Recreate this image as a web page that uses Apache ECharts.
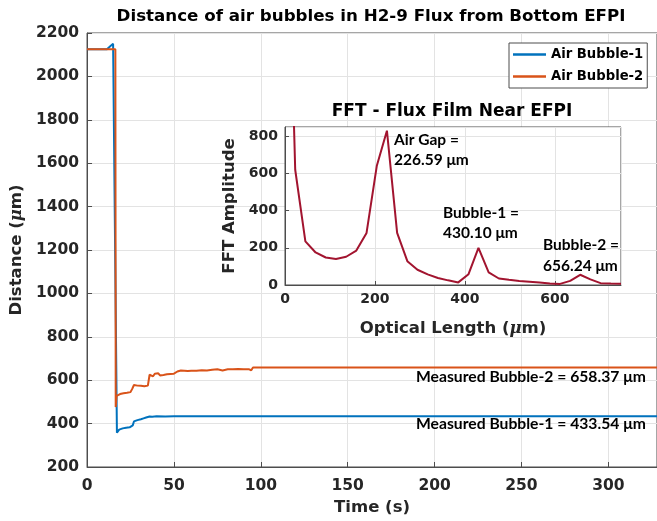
<!DOCTYPE html>
<html>
<head>
<meta charset="utf-8">
<script src="https://cdn.jsdelivr.net/npm/echarts@6/dist/echarts.min.js"></script>
<style>
html,body{margin:0;padding:0;background:#fff;}
#chart{width:657px;height:521px;}
</style>
</head>
<body>
<div id="chart"></div>
<script>
// ---- Data ----
const timeB1 = [0, 11.5, 12.5, 13.5, 14.5, 15.0, 15.6, 17.2, 17.8, 18.5, 19.5, 20.5, 21.5, 22.5, 23.5, 24.5, 25.5, 26.3, 27, 28, 29, 30, 31, 31.8, 32.5, 33.3, 34, 35, 36, 37.5, 40, 45, 50, 60, 70, 80, 90, 100, 120, 150, 200, 250, 300, 328];
const bubble1 = [2125, 2125, 2132, 2140, 2146, 2150, 2155, 358, 364, 372, 376, 378, 380, 381, 380, 383, 386, 392, 410, 414, 416, 418, 420, 416, 424, 432, 428, 431, 433, 432, 433.5, 433, 433.5, 433.5, 433.5, 433.5, 433.5, 433.5, 433.5, 433.5, 433.5, 433.5, 433.5, 433.54];

const timeB2 = [0, 16.3, 16.5, 17, 18, 19, 20, 21, 22, 23, 24, 25, 26, 27, 28, 29, 30, 31, 32, 33, 34, 35, 36, 37, 38, 39, 40, 41, 42, 43, 44, 46, 48, 50, 52, 54, 56, 58, 60, 63, 66, 69, 72, 75, 78, 81, 84, 87, 90, 93, 94.5, 95.5, 100, 150, 200, 250, 300, 328];
const bubble2 = [2125, 2125, 476, 528, 532, 536, 530, 540, 536, 542, 547, 545, 560, 578, 570, 575, 568, 574, 565, 572, 568, 575, 625, 622, 618, 630, 628, 632, 622, 625, 624, 627, 629, 630, 640, 645, 644, 642, 643, 644, 646, 645, 648, 650, 645, 650, 651, 652, 650, 651, 646, 658.37, 658.37, 658.37, 658.37, 658.37, 658.37, 658.37];

const fftX = [0, 22.7, 45.3, 68, 90.6, 113.3, 136, 158.6, 181.3, 204, 226.59, 249.3, 272, 294.5, 317.2, 340, 362.5, 385.2, 408, 430.10, 452.8, 475.5, 498, 520.8, 543.5, 566, 588.8, 611.5, 634, 656.24, 679, 701.6, 724.4, 747];
const fftY = [2600, 620, 235, 175, 148, 140, 152, 185, 280, 640, 830, 280, 128, 82, 57, 38, 25, 14, 58, 200, 68, 35, 28, 22, 18, 14, 8, 6, 22, 55, 30, 10, 8, 7];

const mainTitle = 'Distance of air bubbles in H2-9 Flux from Bottom EFPI';
const insetTitle = 'FFT - Flux Film Near EFPI';
const seriesNames = ['Air Bubble-1', 'Air Bubble-2'];
const measuredLabels = ['Measured Bubble-2 = 658.37 μm', 'Measured Bubble-1 = 433.54 μm'];
const peakLabels = [['Air Gap =', '226.59 μm'], ['Bubble-1 =', '430.10 μm'], ['Bubble-2 =', '656.24 μm']];

const zip = (a, b) => a.map((v, i) => [v, b[i]]);

// ---- Styles ----
const AX = '#4d4d4d';
const TXT = '#262626';
const GRID = '#e3e3e3';
const HF = '"DejaVu Sans", sans-serif';
const CF = 'Lato, "Open Sans", sans-serif';
const plain = v => String(v);

const chart = echarts.init(document.getElementById('chart'), null, {renderer: 'canvas'});

function txt(x, y, text, font, align) {
  return {type: 'text', x: x, y: y, z: 100,
    style: {text: text, font: font, fill: '#000', textAlign: align || 'left', textVerticalAlign: 'middle', align: align || 'left', verticalAlign: 'middle'}};
}

const tickFont = {fontFamily: HF, fontWeight: 'bold', color: TXT};

const option = {
  animation: false,
  backgroundColor: '#fff',
  grid: [
    {left: 83, top: 33, width: 574, height: 435, show: true, borderColor: AX, borderWidth: 1, backgroundColor: '#fff', containLabel: false},
    {left: 285, top: 127, width: 336, height: 158, show: true, borderColor: AX, borderWidth: 1, backgroundColor: '#fff', z: 3, containLabel: false}
  ],
  xAxis: [
    {type: 'value', gridIndex: 0, min: 0, max: 328, interval: 50,
      name: 'Time (s)', nameLocation: 'middle', nameGap: 32,
      nameTextStyle: {fontFamily: HF, fontWeight: 'bold', fontSize: 16.5, color: TXT},
      axisLine: {lineStyle: {color: AX}}, axisTick: {inside: true, length: 5, lineStyle: {color: AX}},
      axisLabel: Object.assign({fontSize: 15.5, margin: 11, showMaxLabel: false, formatter: plain}, tickFont),
      splitLine: {show: true, lineStyle: {color: GRID}}},
    {type: 'value', gridIndex: 1, min: 0, max: 747, interval: 200, z: 4,
      name: 'Optical Length ({i|μ}m)', nameLocation: 'middle', nameGap: 35,
      nameTextStyle: {fontFamily: HF, fontWeight: 'bold', fontSize: 16.5, color: TXT,
        rich: {i: {fontFamily: 'DejaVu Serif', fontStyle: 'italic', fontSize: 16.5, color: TXT}}},
      axisLine: {lineStyle: {color: AX}}, axisTick: {inside: true, length: 4, lineStyle: {color: AX}},
      axisLabel: Object.assign({fontSize: 14, margin: 7, showMaxLabel: false, formatter: plain}, tickFont),
      splitLine: {show: true, lineStyle: {color: GRID}}}
  ],
  yAxis: [
    {type: 'value', gridIndex: 0, min: 200, max: 2200, interval: 200,
      name: 'Distance ({i|μ}m)', nameLocation: 'middle', nameGap: 50,
      nameTextStyle: {fontFamily: HF, fontWeight: 'bold', fontSize: 16.5, color: TXT,
        rich: {i: {fontFamily: 'DejaVu Serif', fontStyle: 'italic', fontSize: 16.5, color: TXT}}},
      axisLine: {lineStyle: {color: AX}}, axisTick: {inside: true, length: 5, lineStyle: {color: AX}},
      axisLabel: Object.assign({fontSize: 15.5, margin: 8, formatter: plain}, tickFont),
      splitLine: {show: true, lineStyle: {color: GRID}}},
    {type: 'value', gridIndex: 1, min: 0, max: 850, interval: 200, z: 4,
      name: 'FFT Amplitude', nameLocation: 'middle', nameGap: 39,
      nameTextStyle: {fontFamily: HF, fontWeight: 'bold', fontSize: 16.5, color: TXT},
      axisLine: {lineStyle: {color: AX}}, axisTick: {inside: true, length: 4, lineStyle: {color: AX}},
      axisLabel: Object.assign({fontSize: 14, margin: 7, showMaxLabel: false, formatter: plain}, tickFont),
      splitLine: {show: true, lineStyle: {color: GRID}}}
  ],
  legend: {
    left: 509, top: 43, orient: 'vertical',
    data: [{name: seriesNames[0], icon: 'rect'}, {name: seriesNames[1], icon: 'rect'}],
    itemWidth: 33, itemHeight: 2.5, itemGap: 5,
    padding: [3, 4, 3, 4],
    backgroundColor: '#fff', borderColor: AX, borderWidth: 1, borderRadius: 0,
    textStyle: {fontFamily: HF, fontWeight: 'bold', fontSize: 13.2, color: '#000', lineHeight: 17},
    z: 10
  },
  series: [
    {name: seriesNames[0], type: 'line', xAxisIndex: 0, yAxisIndex: 0, data: zip(timeB1, bubble1),
      showSymbol: false, symbol: 'none', lineStyle: {color: '#0072BD', width: 2}, itemStyle: {color: '#0072BD'}, z: 2},
    {name: seriesNames[1], type: 'line', xAxisIndex: 0, yAxisIndex: 0, data: zip(timeB2, bubble2),
      showSymbol: false, symbol: 'none', lineStyle: {color: '#D95319', width: 2}, itemStyle: {color: '#D95319'}, z: 2},
    {name: 'FFT', type: 'line', xAxisIndex: 1, yAxisIndex: 1, data: zip(fftX, fftY),
      showSymbol: false, symbol: 'none', clip: true, lineStyle: {color: '#A2142F', width: 2}, itemStyle: {color: '#A2142F'}, z: 6}
  ],
  graphic: [
    txt(371, 17, mainTitle, 'bold 16.7px ' + HF, 'center'),
    txt(452, 112, insetTitle, 'bold 17px ' + HF, 'center'),
    txt(416, 377, measuredLabels[0], 'bold 15.7px ' + CF),
    txt(416, 424, measuredLabels[1], 'bold 15.7px ' + CF),
    txt(394, 140, peakLabels[0][0], 'bold 15.5px ' + CF),
    txt(394, 160, peakLabels[0][1], 'bold 15.5px ' + CF),
    txt(443, 213, peakLabels[1][0], 'bold 15.5px ' + CF),
    txt(443, 233, peakLabels[1][1], 'bold 15.5px ' + CF),
    txt(543, 245, peakLabels[2][0], 'bold 15.5px ' + CF),
    txt(543, 266, peakLabels[2][1], 'bold 15.5px ' + CF)
  ]
};
chart.setOption(option);
</script>
</body>
</html>
